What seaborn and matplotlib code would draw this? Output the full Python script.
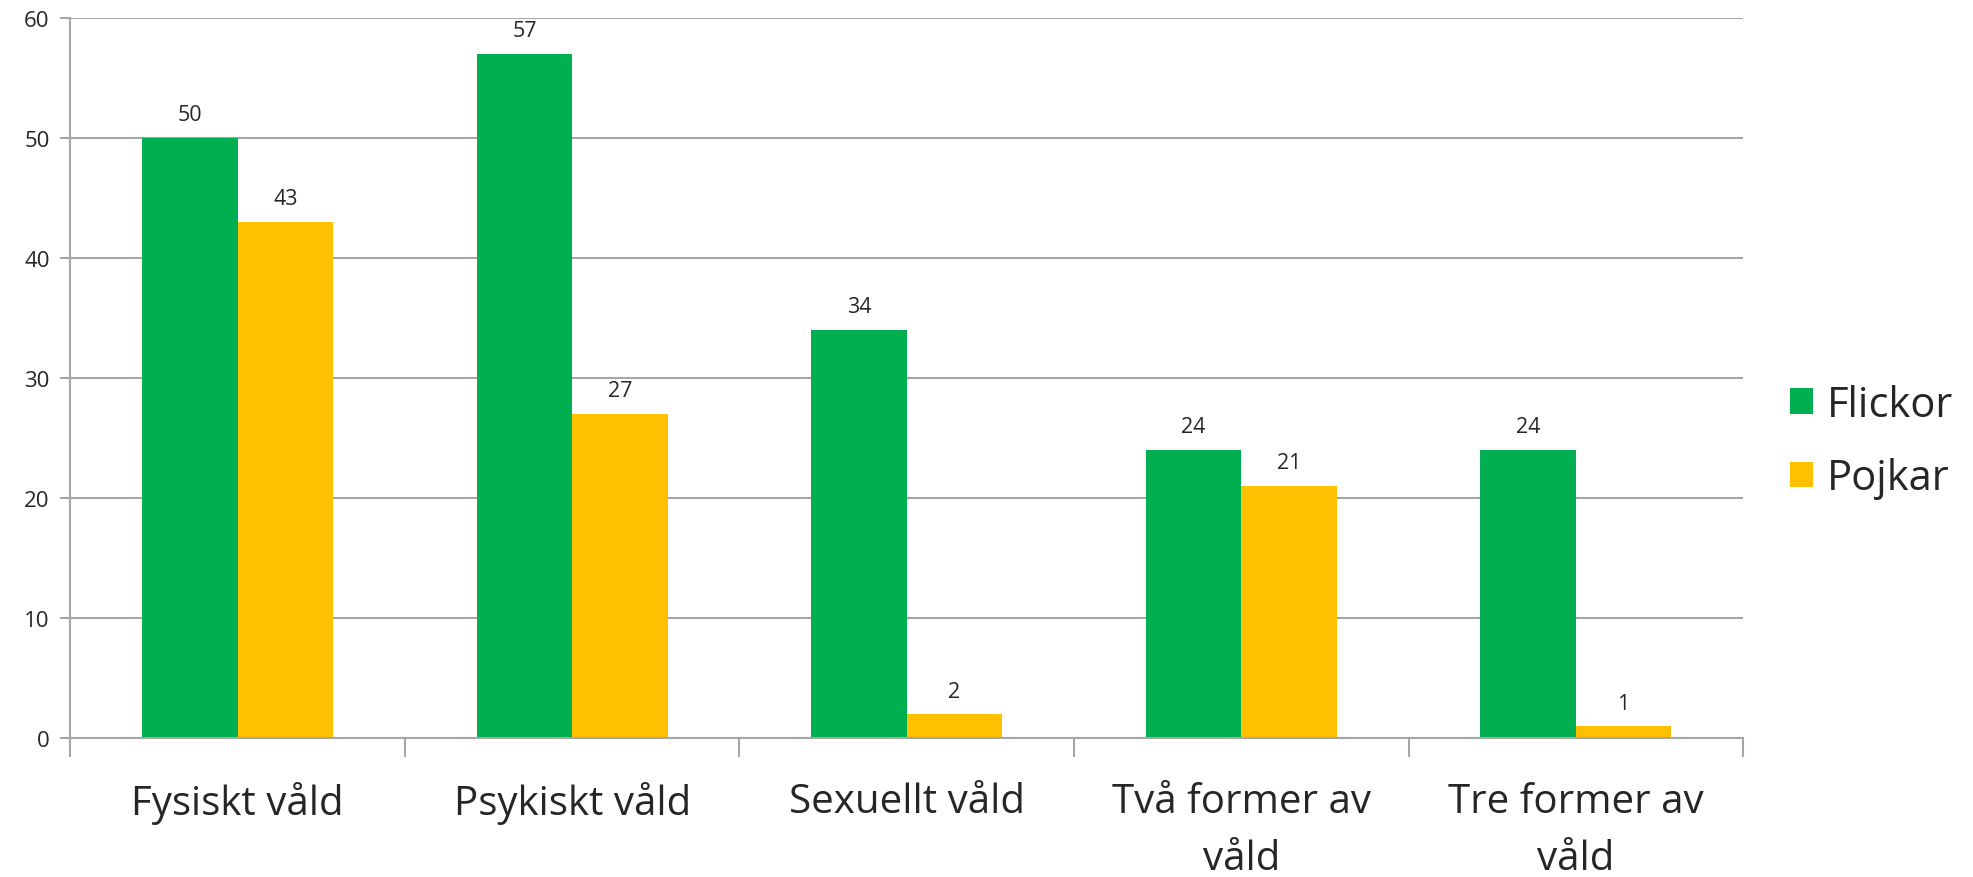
import matplotlib
matplotlib.use("Agg")
import matplotlib.pyplot as plt
import seaborn as sns
import pandas as pd
import numpy as np

# data
categories = ["Fysiskt våld", "Psykiskt våld", "Sexuellt våld",
              "Två former av\nvåld", "Tre former av\nvåld"]
flickor = [50, 57, 34, 24, 24]
pojkar = [43, 27, 2, 21, 1]
series = ["Flickor", "Pojkar"]
colors = ["#00B050", "#FFC000"]

df = pd.DataFrame({
    "kategori": categories * 2,
    "grupp": [series[0]] * len(categories) + [series[1]] * len(categories),
    "andel": flickor + pojkar,
})

sns.set_style("white")
plt.rcParams['font.family'] = ['Open Sans', 'DejaVu Sans']
grid_col = "#A6A6A6"

fig = plt.figure(figsize=(19.74, 8.78), dpi=100)
ax = fig.add_axes([0.0357, 0.1583, 0.8473, 0.8201])

sns.barplot(data=df, x="kategori", y="andel", hue="grupp",
            palette=colors, width=0.5714, gap=0, saturation=1,
            edgecolor="none", linewidth=0, ax=ax)

for cont in ax.containers:
    ax.bar_label(cont, fmt="%d", padding=9, fontsize=15.5)

ax.set_ylim(0, 60)
ax.set_xlim(-0.5, len(categories) - 0.5)
ax.set_yticks(np.arange(0, 61, 10))
ax.yaxis.grid(True, color=grid_col, linewidth=1.5)
ax.set_axisbelow(True)
ax.tick_params(axis="y", labelsize=16, length=7, width=1.5, color=grid_col,
               left=True, pad=8)

# category boundaries as ticks, names in between
ax.set_xticks(np.arange(-0.5, len(categories), 1.0))
ax.set_xticklabels([])
ax.set_xticks(np.arange(len(categories)), minor=True)
ax.set_xticklabels(categories, minor=True, fontsize=29, linespacing=1.55)
ax.tick_params(axis="x", which="major", length=14, width=1.5, color=grid_col,
               bottom=True)
ax.tick_params(axis="x", which="minor", length=0, pad=31)

for s in ["top", "right"]:
    ax.spines[s].set_visible(False)
for s in ["left", "bottom"]:
    ax.spines[s].set_color(grid_col)
    ax.spines[s].set_linewidth(1.5)

ax.set_xlabel("")
ax.set_ylabel("")

leg = ax.legend(loc="center left", bbox_to_anchor=(1.028, 0.412), frameon=False,
                fontsize=30, handlelength=0.55, handleheight=0.55,
                handletextpad=0.35, labelspacing=0.75,
                borderpad=0, borderaxespad=0)

fig.savefig("out.png", dpi=100)
